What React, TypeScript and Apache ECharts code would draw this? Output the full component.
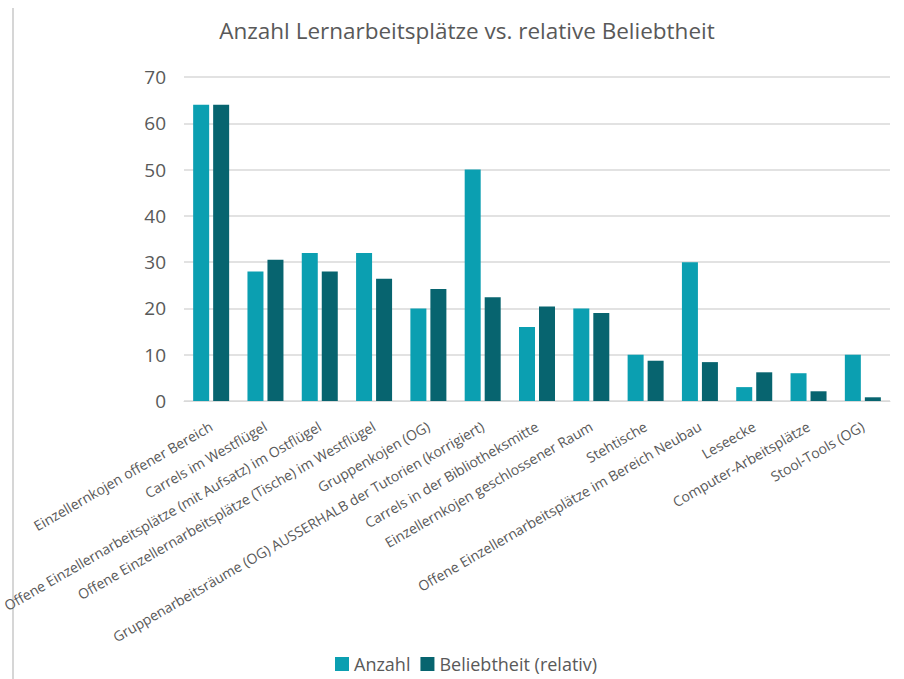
import React, { useEffect, useRef } from "react";
import * as echarts from "echarts";

const categories = [
  "Einzellernkojen offener Bereich",
  "Carrels im Westflügel",
  "Offene Einzellernarbeitsplätze (mit Aufsatz) im Ostflügel",
  "Offene Einzellernarbeitsplätze (Tische) im Westflügel",
  "Gruppenkojen (OG)",
  "Gruppenarbeitsräume (OG) AUSSERHALB der Tutorien (korrigiert)",
  "Carrels in der Bibliotheksmitte",
  "Einzellernkojen geschlossener Raum",
  "Stehtische",
  "Offene Einzellernarbeitsplätze im Bereich Neubau",
  "Leseecke",
  "Computer-Arbeitsplätze",
  "Stool-Tools (OG)",
];

const anzahl = [64, 28, 32, 32, 20, 50, 16, 20, 10, 30, 3, 6, 10];
const beliebtheit = [64, 30.5, 28, 26.4, 24.2, 22.4, 20.4, 19, 8.7, 8.4, 6.2, 2.1, 0.8];

const yTicks = { min: 0, max: 70, interval: 10 };
const title = "Anzahl Lernarbeitsplätze vs. relative Beliebtheit";
const seriesNames = ["Anzahl", "Beliebtheit (relativ)"];

const FONT = "'Open Sans', 'DejaVu Sans', sans-serif";
const TEXT = "#595959";

export default function App() {
  const ref = useRef<HTMLDivElement>(null);
  useEffect(() => {
    document.body.style.margin = "0";
    const chart = echarts.init(ref.current!, undefined, { renderer: "svg" });
    chart.setOption({
      animation: false,
      backgroundColor: "#ffffff",
      textStyle: { fontFamily: FONT },
      title: {
        text: title,
        left: 462,
        textAlign: "center",
        top: 14,
        textStyle: { fontFamily: FONT, fontSize: 22.5, fontWeight: "normal", color: TEXT },
      },
      legend: {
        data: seriesNames,
        left: 335,
        top: 654,
        padding: 0,
        itemWidth: 14,
        itemHeight: 14,
        itemGap: 10,
        icon: "rect",
        textStyle: { fontFamily: FONT, fontSize: 18, lineHeight: 20, color: TEXT },
      },
      grid: {
        left: 184,
        right: 14,
        top: 77,
        bottom: 278,
        containLabel: false,
        outerBoundsMode: "none",
      },
      xAxis: {
        type: "category",
        data: categories,
        axisLine: { lineStyle: { color: "#D9D9D9", width: 1 } },
        axisTick: { show: false },
        axisLabel: {
          interval: 0,
          rotate: 30,
          fontFamily: FONT,
          fontSize: 14,
          color: TEXT,
          margin: 24,
        },
      },
      yAxis: {
        type: "value",
        min: yTicks.min,
        max: yTicks.max,
        interval: yTicks.interval,
        axisLine: { show: false },
        axisTick: { show: false },
        axisLabel: { fontFamily: FONT, fontSize: 19, color: TEXT, margin: 18 },
        splitLine: { lineStyle: { color: "#D9D9D9", width: 1.5 } },
      },
      graphic: [
        {
          type: "line",
          shape: { x1: 13, y1: 8, x2: 13, y2: 679 },
          style: { stroke: "#D6D6D6", lineWidth: 2 },
          silent: true,
        },
      ],
      series: [
        {
          name: seriesNames[0],
          type: "bar",
          data: anzahl,
          barWidth: 16,
          barGap: "25%",
          itemStyle: { color: "#0B9FB1" },
        },
        {
          name: seriesNames[1],
          type: "bar",
          data: beliebtheit,
          barWidth: 16,
          itemStyle: { color: "#07646F" },
        },
      ],
    });
    return () => chart.dispose();
  }, []);
  return <div ref={ref} style={{ width: 904, height: 679 }} />;
}
